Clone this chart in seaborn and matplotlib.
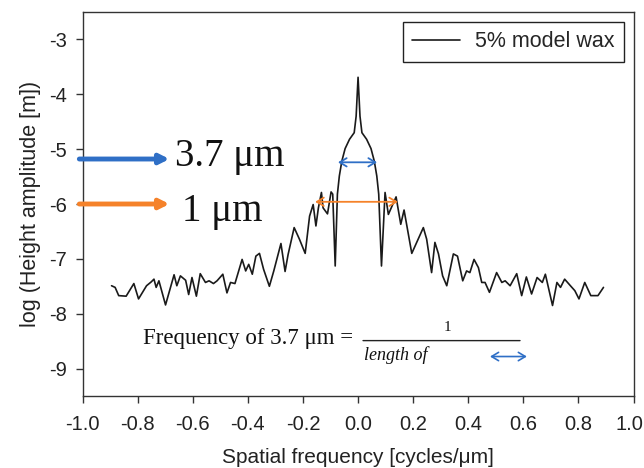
import numpy as np
import pandas as pd
import matplotlib
matplotlib.use('Agg')
import matplotlib.pyplot as plt
import matplotlib.transforms as mtransforms
import seaborn as sns

# spatial frequency [cycles/um] and log height amplitude
freq = [-0.895, -0.882, -0.869, -0.842, -0.814, -0.797, -0.768, -0.751, -0.741, -0.733,
        -0.723, -0.699, -0.668, -0.658, -0.645, -0.626, -0.615, -0.603, -0.587, -0.573,
        -0.554, -0.541, -0.525, -0.512, -0.491, -0.476, -0.463, -0.447, -0.421, -0.408,
        -0.397, -0.384, -0.371, -0.358, -0.343, -0.322, -0.306, -0.280, -0.265, -0.254,
        -0.232, -0.213, -0.192, -0.176, -0.163, -0.153, -0.144, -0.133, -0.127, -0.111,
        -0.098, -0.092, -0.083,
        -0.075, -0.068, -0.059, -0.047, -0.031, -0.014, -0.007, 0.000, 0.007, 0.014,
        0.031, 0.047, 0.059, 0.068, 0.075, 0.085,
        0.098, 0.110, 0.138, 0.155, 0.167, 0.195, 0.237, 0.249, 0.267, 0.279,
        0.292, 0.307, 0.322, 0.346, 0.361, 0.380, 0.394, 0.406, 0.421, 0.437,
        0.449, 0.461, 0.477, 0.503, 0.522, 0.534, 0.552, 0.576, 0.594, 0.611,
        0.630, 0.650, 0.669, 0.680, 0.706, 0.722, 0.735, 0.750, 0.771, 0.787,
        0.802, 0.823, 0.845, 0.871, 0.891]
log_amp = [-7.49, -7.52, -7.67, -7.68, -7.45, -7.73, -7.49, -7.42, -7.37, -7.52,
           -7.40, -7.84, -7.29, -7.49, -7.31, -7.39, -7.65, -7.34, -7.68, -7.27,
           -7.43, -7.40, -7.45, -7.40, -7.28, -7.62, -7.43, -7.45, -7.01, -7.22,
           -7.10, -7.28, -6.95, -6.90, -7.19, -7.50, -7.22, -6.72, -7.23, -6.92,
           -6.43, -6.64, -6.90, -6.22, -6.01, -6.40, -6.07, -5.79, -6.07, -6.18,
           -5.78, -5.82, -7.13,
           -5.82, -5.49, -5.22, -4.99, -4.82, -4.70, -4.40, -3.69, -4.40, -4.70,
           -4.82, -4.99, -5.22, -5.49, -5.82, -7.13,
           -5.79, -6.19, -5.87, -6.37, -6.11, -6.90, -6.43, -6.64, -7.25, -6.70,
           -6.91, -7.31, -7.49, -6.91, -6.95, -7.40, -7.22, -7.25, -7.01, -7.16,
           -7.43, -7.43, -7.61, -7.25, -7.43, -7.40, -7.49, -7.27, -7.67, -7.33,
           -7.64, -7.34, -7.43, -7.28, -7.85, -7.43, -7.52, -7.37, -7.49, -7.58,
           -7.73, -7.43, -7.67, -7.67, -7.52]
series_label = '5% model wax'
x_ticks = [-1.0, -0.8, -0.6, -0.4, -0.2, 0.0, 0.2, 0.4, 0.6, 0.8, 1.0]
y_ticks = [-9, -8, -7, -6, -5, -4, -3]

df = pd.DataFrame({'freq': freq, 'log_amp': log_amp})

sns.set_style('ticks')
plt.rcParams['font.family'] = ['Liberation Sans', 'DejaVu Sans']

blue = '#2f6fc6'
orange = '#f5822a'
serif = ['Liberation Serif', 'DejaVu Serif']

fig = plt.figure(figsize=(6.44, 4.68), dpi=100)
ax = fig.add_axes([0.1283, 0.1538, 0.8554, 0.8206])

sns.lineplot(data=df, x='freq', y='log_amp', ax=ax, color='#1a1a1a', lw=1.2,
             label=series_label, sort=False)

ax.set_xlim(-1.0, 1.0)
ax.set_ylim(-9.5, -2.5)
ax.set_xticks(x_ticks)
ax.set_xticklabels([f'{t:.1f}' for t in x_ticks])
ax.set_yticks(y_ticks)
ax.set_yticklabels([str(t) for t in y_ticks])
ax.tick_params(axis='both', labelsize=14.5, length=5, width=1, color='#333333',
               labelcolor='#222222', direction='out')
ax.tick_params(axis='x', pad=9)
ax.tick_params(axis='y', pad=6)
ax.set_xlabel('Spatial frequency [cycles/\u03bcm]', fontsize=15, color='#222222', labelpad=10)
ax.set_ylabel('log (Height amplitude [m])', fontsize=15.5, color='#222222', labelpad=6)
for sp in ax.spines.values():
    sp.set_visible(True)
    sp.set_linewidth(1.0)
    sp.set_color('#333333')

# keep the last x tick label inside the canvas
last = ax.get_xticklabels()[-1]
last.set_transform(last.get_transform() + mtransforms.ScaledTranslation(-4 / 100, 0, fig.dpi_scale_trans))

leg = ax.legend(loc='upper right', fontsize=15.5, frameon=True, fancybox=False,
                edgecolor='#222222', framealpha=1, handlelength=2.2, borderpad=0.45,
                handletextpad=0.7, borderaxespad=0.45)
leg.get_frame().set_linewidth(1.0)

# big arrows with labels on the left
ax.annotate('', xy=(-0.685, -5.18), xytext=(-1.012, -5.18), annotation_clip=False,
            arrowprops=dict(arrowstyle='-|>,head_length=0.55,head_width=0.28', lw=3.5,
                            color=blue, shrinkA=0, shrinkB=0))
ax.annotate('', xy=(-0.685, -6.0), xytext=(-1.012, -6.0), annotation_clip=False,
            arrowprops=dict(arrowstyle='-|>,head_length=0.55,head_width=0.28', lw=3.5,
                            color=orange, shrinkA=0, shrinkB=0))
ax.text(-0.665, -5.13, '3.7 \u03bcm', fontsize=28, family=serif,
        va='center', ha='left', color='#111111')
ax.text(-0.64, -6.14, '1 \u03bcm', fontsize=28, family=serif,
        va='center', ha='left', color='#111111')

# widths of the central peak and side lobes
ax.annotate('', xy=(0.069, -5.24), xytext=(-0.073, -5.24),
            arrowprops=dict(arrowstyle='<->,head_length=0.5,head_width=0.3', lw=1.3,
                            color=blue, shrinkA=0, shrinkB=0))
ax.annotate('', xy=(0.145, -5.96), xytext=(-0.156, -5.96),
            arrowprops=dict(arrowstyle='<->,head_length=0.5,head_width=0.3', lw=1.3,
                            color=orange, shrinkA=0, shrinkB=0))

# formula
ax.text(-0.78, -8.45, 'Frequency of 3.7 \u03bcm =', fontsize=16.5,
        family=serif, va='center', ha='left', color='#111111')
ax.annotate('', xy=(0.588, -8.49), xytext=(0.018, -8.49),
            arrowprops=dict(arrowstyle='-', lw=1.0, color='#222222', shrinkA=0, shrinkB=0))
ax.text(0.323, -8.26, '1', fontsize=11, family=serif,
        va='center', ha='center', color='#111111')
ax.text(0.022, -8.75, 'length of', fontsize=13, family=serif,
        style='italic', va='center', ha='left', color='#111111')
ax.annotate('', xy=(0.613, -8.78), xytext=(0.479, -8.78),
            arrowprops=dict(arrowstyle='<->,head_length=0.5,head_width=0.3', lw=1.2,
                            color=blue, shrinkA=0, shrinkB=0))

fig.savefig('out.png', dpi=100)
